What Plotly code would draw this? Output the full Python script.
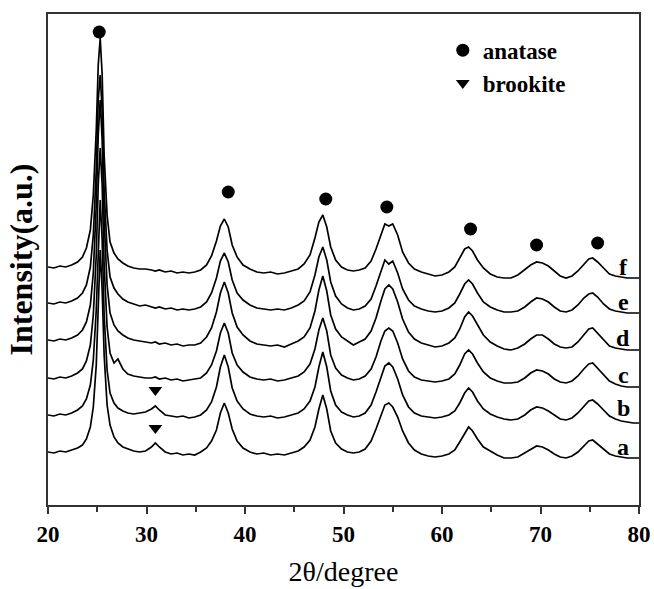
import plotly.graph_objects as go

two_theta = [20.0, 20.6, 21.2, 21.8, 22.4, 23.0, 23.5, 23.9, 24.3, 24.6, 24.9, 25.1, 25.3, 25.5, 25.7, 26.0,
             26.3, 26.7, 27.1, 27.6, 28.1, 28.7, 29.3, 29.9, 30.5, 30.9, 31.3, 31.9, 32.5, 33.1, 33.7, 34.3,
             34.9, 35.5, 36.1, 36.6, 37.1, 37.5, 37.9, 38.3, 38.7, 39.2, 39.8, 40.5, 41.2, 41.9, 42.6, 43.3,
             44.0, 44.7, 45.4, 46.0, 46.6, 47.1, 47.5, 47.9, 48.3, 48.7, 49.2, 49.8, 50.4, 51.0, 51.6, 52.2,
             52.8, 53.3, 53.8, 54.2, 54.6, 55.0, 55.5, 56.0, 56.6, 57.2, 57.9, 58.6, 59.3, 60.0, 60.7, 61.3,
             61.8, 62.3, 62.7, 63.1, 63.6, 64.2, 64.9, 65.6, 66.3, 67.0, 67.7, 68.4, 69.0, 69.6, 70.2, 70.8,
             71.4, 72.0, 72.6, 73.2, 73.8, 74.4, 74.9, 75.3, 75.8, 76.4, 77.0, 77.6, 78.2, 78.8, 79.4, 80.0]

intensity_a = [53, 52, 54, 53, 55, 57, 60, 66, 78, 98, 140, 200, 255, 215, 150, 100,
               80, 68, 62, 58, 56, 54, 53, 54, 58, 62, 58, 53, 51, 52, 50, 51,
               50, 53, 57, 64, 75, 92, 102, 92, 76, 64, 57, 53, 51, 52, 50, 51,
               50, 52, 54, 58, 65, 78, 96, 110, 96, 74, 62, 56, 53, 52, 53, 56,
               64, 76, 90, 100, 102, 98, 88, 74, 62, 55, 51, 49, 48, 49, 51, 55,
               63, 72, 78, 74, 66, 58, 54, 50, 47, 47, 48, 52, 56, 59, 58, 55,
               51, 48, 47, 49, 53, 59, 64, 65, 61, 56, 51, 49, 48, 47, 47, 47]

intensity_b = [90, 89, 91, 90, 92, 95, 99, 106, 120, 145, 195, 260, 305, 265, 190, 135,
               112, 102, 97, 94, 92, 91, 92, 93, 96, 99, 95, 90, 89, 88, 89, 87,
               88, 90, 95, 103, 118, 138, 150, 138, 117, 104, 96, 91, 89, 88, 89, 87,
               88, 90, 92, 96, 104, 118, 138, 153, 138, 114, 100, 93, 90, 88, 89, 92,
               100, 113, 128, 139, 142, 138, 126, 110, 98, 92, 89, 88, 87, 88, 90, 94,
               102, 112, 117, 113, 104, 96, 91, 88, 86, 85, 86, 90, 95, 98, 97, 94,
               90, 86, 85, 87, 92, 99, 104, 105, 101, 95, 89, 86, 84, 83, 82, 82]

intensity_c = [127, 126, 128, 127, 129, 132, 136, 144, 160, 190, 250, 320, 357, 320, 240, 178,
               152, 142, 146, 136, 131, 129, 128, 127, 127, 128, 126, 127, 125, 126, 124, 125,
               126, 127, 132, 140, 154, 172, 182, 172, 152, 140, 133, 128, 126, 125, 126, 124,
               125, 127, 129, 133, 141, 156, 175, 187, 174, 150, 137, 130, 127, 125, 126, 129,
               136, 148, 164, 174, 177, 174, 162, 146, 134, 128, 125, 124, 123, 124, 126, 131,
               140, 151, 155, 151, 142, 133, 127, 124, 122, 122, 123, 127, 132, 135, 134, 131,
               126, 123, 122, 124, 129, 136, 141, 142, 137, 130, 124, 121, 119, 118, 118, 118]

intensity_d = [165, 164, 166, 165, 167, 170, 175, 183, 200, 232, 300, 370, 405, 365, 285, 220,
               192, 180, 174, 170, 167, 165, 164, 163, 162, 163, 161, 162, 160, 161, 159, 160,
               160, 162, 168, 177, 193, 212, 223, 212, 192, 178, 170, 164, 161, 160, 159, 160,
               158, 161, 164, 168, 177, 194, 215, 229, 214, 190, 176, 168, 164, 160, 163, 166,
               174, 187, 204, 216, 220, 216, 203, 186, 173, 166, 162, 160, 158, 159, 162, 167,
               176, 188, 193, 189, 180, 170, 163, 159, 156, 155, 157, 161, 166, 170, 170, 166,
               161, 158, 157, 158, 163, 170, 176, 177, 172, 165, 159, 157, 156, 155, 155, 155]

intensity_e = [202, 201, 203, 202, 204, 207, 212, 220, 238, 270, 335, 405, 430, 395, 315, 255,
               228, 217, 211, 206, 203, 201, 199, 200, 198, 197, 198, 196, 197, 195, 196, 195,
               196, 198, 203, 212, 227, 244, 252, 243, 225, 212, 205, 200, 197, 196, 195, 196,
               195, 197, 200, 204, 213, 230, 248, 258, 245, 223, 209, 201, 197, 195, 196, 199,
               206, 219, 234, 245, 241, 244, 232, 216, 205, 199, 196, 194, 193, 194, 197, 202,
               211, 221, 225, 221, 212, 203, 198, 195, 193, 193, 194, 198, 203, 207, 206, 203,
               198, 194, 193, 195, 200, 207, 211, 212, 208, 201, 196, 194, 193, 192, 192, 192]

intensity_f = [238, 237, 239, 238, 240, 243, 248, 257, 275, 310, 375, 440, 467, 430, 350, 290,
               263, 252, 246, 242, 239, 237, 236, 236, 235, 234, 235, 233, 234, 232, 233, 232,
               233, 235, 240, 249, 264, 279, 286, 278, 260, 248, 240, 236, 233, 232, 233, 231,
               232, 234, 236, 241, 250, 267, 283, 290, 278, 258, 245, 238, 235, 234, 235, 237,
               244, 256, 271, 281, 279, 281, 270, 253, 242, 236, 233, 231, 229, 230, 233, 238,
               247, 256, 258, 254, 245, 237, 231, 228, 227, 227, 230, 235, 240, 243, 242, 239,
               234, 229, 227, 229, 234, 241, 246, 247, 243, 237, 231, 229, 228, 227, 227, 227]

sample_labels = ["a", "b", "c", "d", "e", "f"]
label_x = [78.4, 78.4, 78.4, 78.4, 78.4, 78.4]
label_y = [58, 97, 130, 167, 203, 238]

anatase_x = [25.2, 38.3, 48.2, 54.4, 62.9, 69.6, 75.8]
anatase_y = [473, 313, 306, 298, 276, 260, 262]
brookite_x = [30.9, 30.9]
brookite_y = [115, 77]

series = [intensity_a, intensity_b, intensity_c, intensity_d, intensity_e, intensity_f]

fig = go.Figure()
for name, vals in zip(sample_labels, series):
    assert len(vals) == len(two_theta), name
    fig.add_trace(go.Scatter(x=two_theta, y=vals, mode="lines", name=name,
                             line=dict(color="black", width=1.7), showlegend=False))

fig.add_trace(go.Scatter(x=anatase_x, y=anatase_y, mode="markers", name="anatase",
                         marker=dict(symbol="circle", size=13, color="black")))
fig.add_trace(go.Scatter(x=brookite_x, y=brookite_y, mode="markers", name="brookite",
                         marker=dict(symbol="triangle-down", size=12, color="black")))

for t, lx, ly in zip(sample_labels, label_x, label_y):
    fig.add_annotation(x=lx, y=ly, text=t, showarrow=False, xanchor="center", yanchor="middle",
                       font=dict(family="Liberation Serif", size=24, color="black", weight="bold"))

fig.update_layout(
    width=654, height=589,
    margin=dict(l=48, r=15, t=14, b=84, autoexpand=False),
    paper_bgcolor="white", plot_bgcolor="white",
    legend=dict(x=0.668, y=0.97, xanchor="left", yanchor="top",
                font=dict(family="Liberation Serif", size=23, color="black", weight="bold"),
                bgcolor="rgba(0,0,0,0)", itemsizing="trace", tracegroupgap=0),
)
fig.update_xaxes(range=[20, 80], automargin=False, showline=True, linewidth=2, linecolor="#333", mirror=True,
                 ticks="outside", ticklen=7, tickwidth=2, tickcolor="#333",
                 tick0=20, dtick=10, showgrid=False, zeroline=False,
                 minor=dict(ticks="outside", ticklen=5, tickwidth=2, tickcolor="#333", dtick=5, showgrid=False),
                 tickfont=dict(family="Liberation Serif", size=23, color="black", weight="bold"),
                 title=dict(text="2θ/degree", font=dict(family="Liberation Serif", size=28, color="black"),
                            standoff=16))
fig.update_yaxes(range=[0, 491], automargin=False, showline=True, linewidth=2, linecolor="#333", mirror=True,
                 ticks="", showticklabels=False, showgrid=False, zeroline=False,
                 title=dict(text="Intensity(a.u.)",
                            font=dict(family="Liberation Serif", size=32, color="black", weight="bold"),
                            standoff=4))

fig.write_html("out.html")
